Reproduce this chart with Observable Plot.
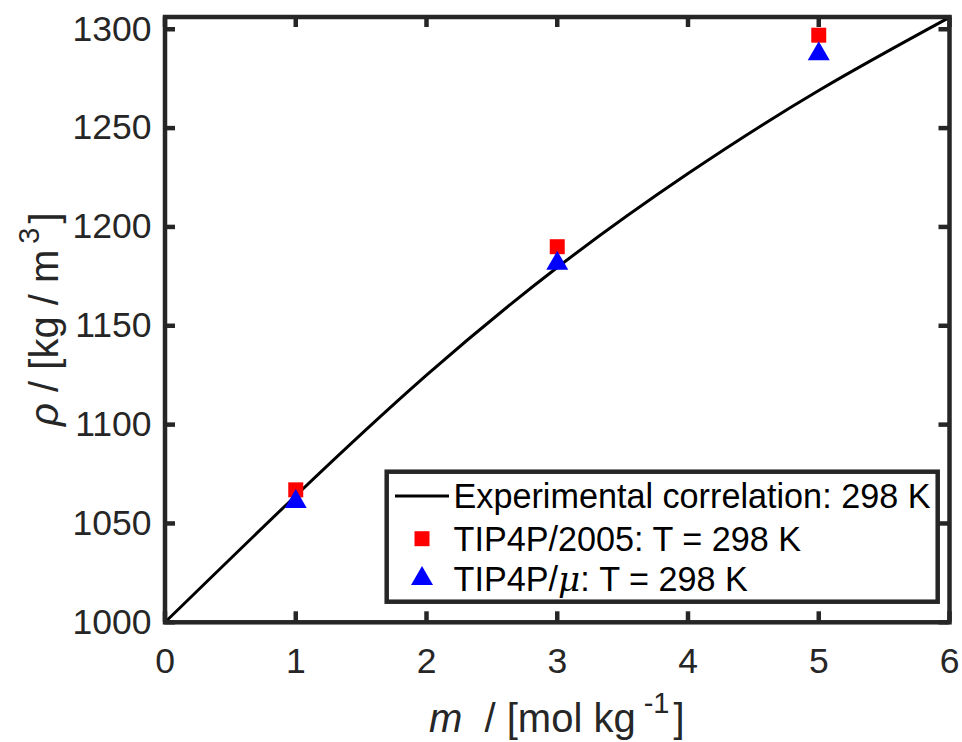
<!DOCTYPE html>
<html><head><meta charset="utf-8">
<script src="https://cdn.jsdelivr.net/npm/d3@7"></script>
<script src="https://cdn.jsdelivr.net/npm/@observablehq/plot@0.6"></script>
<style>html,body{margin:0;padding:0;background:#fff} svg{display:block}</style>
</head><body><div id="chart"></div>
<script>
// ---- data ----
const expM = [0, 1, 2, 3, 4, 5, 6];
const expRho = [1000, 1064, 1125, 1179.5, 1227, 1269, 1306];
const simM = [1, 3, 5];
const tip2005Rho = [1067, 1190, 1297];
const tipMuRho = [1061, 1181.5, 1287.5];
const xTicks = [0, 1, 2, 3, 4, 5, 6];
const yTicks = [1000, 1050, 1100, 1150, 1200, 1250, 1300];
const legendLabels = ["Experimental correlation: 298 K", "TIP4P/2005: T = 298 K", "TIP4P/", "μ", ": T = 298 K"];

// ---- layout ----
const W = 962, H = 742;
const mL = 164.5, mR = 13, mT = 16.5, mB = 120.2;
const fw = W - mL - mR, fh = H - mT - mB;
const tickLen = 10.5;
const axisColor = "#262626";
const font = "'Liberation Sans', Arial, Helvetica, sans-serif";

const expData = expM.map((m, i) => ({m, rho: expRho[i]}));
const d2005 = simM.map((m, i) => ({m, rho: tip2005Rho[i]}));
const dMu = simM.map((m, i) => ({m, rho: tipMuRho[i]}));

const plot = Plot.plot({
  width: W, height: H,
  marginLeft: mL, marginRight: mR, marginTop: mT, marginBottom: mB,
  style: {fontFamily: font, fontSize: "35.5px", background: "white", color: axisColor, overflow: "visible"},
  x: {domain: [0, 6]},
  y: {domain: [1000, 1306.2]},
  marks: [
    Plot.line(expData, {x: "m", y: "rho", curve: "natural", stroke: "black", strokeWidth: 3}),
    Plot.dot(d2005, {x: "m", y: "rho", symbol: "square", r: 8.46, fill: "#ff0000", stroke: "none"}),
    Plot.dot(dMu, {x: "m", y: "rho", symbol: "triangle", r: 8.17, fill: "#0000ff", stroke: "none"}),
    Plot.frame({stroke: axisColor, strokeWidth: 4.5}),
    Plot.ruleX(xTicks, {x: d => d, insetTop: fh - tickLen, stroke: axisColor, strokeWidth: 4.5}),
    Plot.ruleX(xTicks, {x: d => d, insetBottom: fh - tickLen, stroke: axisColor, strokeWidth: 4.5}),
    Plot.ruleY(yTicks, {y: d => d, insetRight: fw - tickLen, stroke: axisColor, strokeWidth: 4.5}),
    Plot.ruleY(yTicks, {y: d => d, insetLeft: fw - tickLen, stroke: axisColor, strokeWidth: 4.5}),
    Plot.axisX({ticks: xTicks, tickFormat: d3.format("d"), tickSize: 0, tickPadding: 25, fontSize: 35.5, label: null, fill: axisColor}),
    Plot.axisY({ticks: yTicks, tickFormat: d3.format("d"), tickSize: 0, tickPadding: 13.5, fontSize: 35.5, label: null, fill: axisColor})
  ]
});
document.getElementById("chart").appendChild(plot);

const svg = d3.select(plot);

// ---- axis labels ----
const xl = svg.append("text")
  .attr("x", mL + fw / 2).attr("y", 731.5)
  .attr("text-anchor", "middle")
  .attr("font-family", font).attr("font-size", 40).attr("fill", axisColor);
xl.append("tspan").attr("font-style", "italic").text("m");
xl.append("tspan").text("\u00A0\u00A0/ [mol kg");
xl.append("tspan").attr("font-size", 29).attr("dx", 8).attr("dy", -19).text("-1");
xl.append("tspan").attr("dy", 19).attr("dx", 4).text("]");

const yl = svg.append("text")
  .attr("transform", `translate(58,${mT + fh / 2}) rotate(-90)`)
  .attr("text-anchor", "middle")
  .attr("font-family", font).attr("font-size", 40).attr("fill", axisColor);
yl.append("tspan").attr("font-style", "italic").text("ρ");
yl.append("tspan").text(" / [kg / m");
yl.append("tspan").attr("font-size", 29).attr("dx", 6).attr("dy", -19).text("3");
yl.append("tspan").attr("dy", 19).attr("dx", 4).text("]");

// ---- legend ----
const lg = {x: 386.7, y: 471.7, w: 551, h: 130, rows: [496, 538.7, 578.7], symX: 422, textX: 453.5, fs: 34.2};
const leg = svg.append("g").attr("text-anchor", "start");
leg.append("rect").attr("x", lg.x).attr("y", lg.y).attr("width", lg.w).attr("height", lg.h)
  .attr("fill", "white").attr("stroke", axisColor).attr("stroke-width", 4.5);
leg.append("line").attr("x1", 395).attr("x2", 449).attr("y1", lg.rows[0]).attr("y2", lg.rows[0])
  .attr("stroke", "black").attr("stroke-width", 3);
leg.append("path").attr("d", d3.symbol(d3.symbolSquare, 15 * 15)())
  .attr("transform", `translate(${lg.symX},${lg.rows[1]})`).attr("fill", "#ff0000");
leg.append("path").attr("d", d3.symbol(d3.symbolTriangle, 209.5)())
  .attr("transform", `translate(${lg.symX},${lg.rows[2]})`).attr("fill", "#0000ff");
leg.append("text").attr("x", lg.textX).attr("y", lg.rows[0] + 12).attr("text-anchor", "start")
  .attr("font-family", font).attr("font-size", lg.fs).attr("fill", "black").text(legendLabels[0]);
leg.append("text").attr("x", lg.textX).attr("y", lg.rows[1] + 12).attr("text-anchor", "start")
  .attr("font-family", font).attr("font-size", lg.fs).attr("fill", "black").text(legendLabels[1]);
const t3 = leg.append("text").attr("x", lg.textX).attr("y", lg.rows[2] + 12).attr("text-anchor", "start")
  .attr("font-family", font).attr("font-size", lg.fs).attr("fill", "black");
t3.append("tspan").text(legendLabels[2]);
t3.append("tspan").attr("font-style", "italic").attr("font-family", "'DejaVu Serif', serif").text(legendLabels[3]);
t3.append("tspan").text(legendLabels[4]);
</script>
</body></html>
